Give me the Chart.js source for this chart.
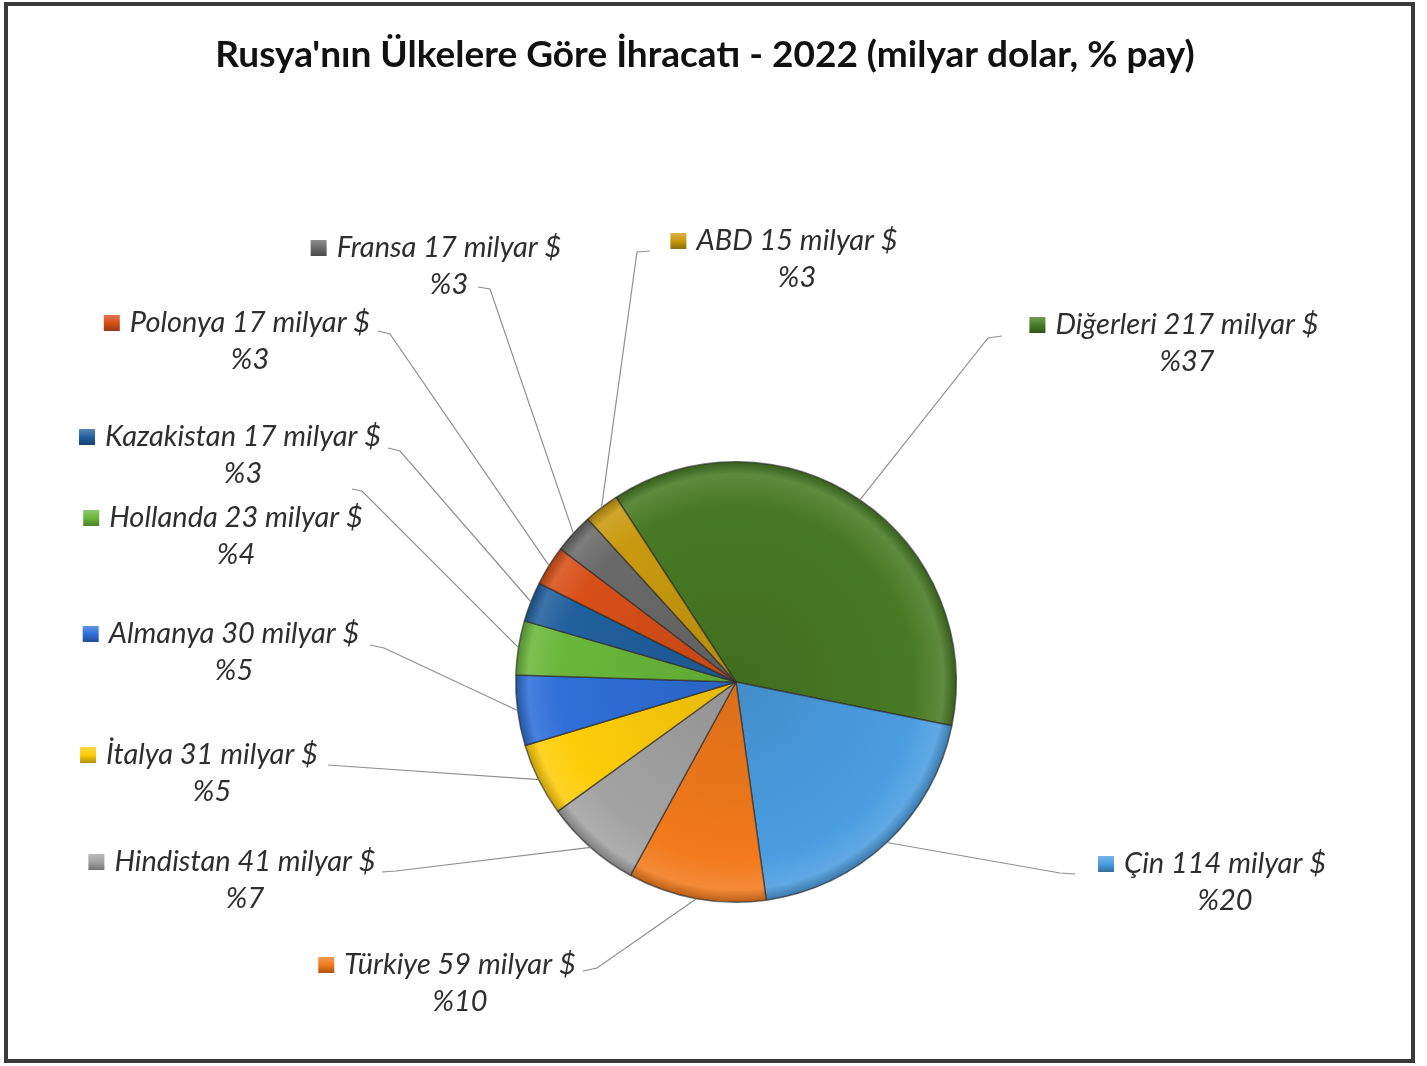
<!DOCTYPE html>
<html><head><meta charset="utf-8">
<script src="https://cdn.jsdelivr.net/npm/chart.js@4"></script>
<style>html,body{margin:0;padding:0;background:#fff}canvas{display:block}</style>
</head><body>
<canvas id="c" width="1427" height="1066"></canvas>
<script>
// ---- data ----
const categories = ['Diğerleri','Çin','Türkiye','Hindistan','İtalya','Almanya','Hollanda','Kazakistan','Polonya','Fransa','ABD'];
const values = [217,114,59,41,31,30,23,17,17,17,15];
const shares = [37,20,10,7,5,5,4,3,3,3,3];
const unitLabel = 'milyar $';
const titleText = "Rusya'nın Ülkelere Göre İhracatı - 2022 (milyar dolar, % pay)";

// ---- styles ----
const colors = ['#477a23','#4a9de0','#f27a1c','#a3a3a3','#fecd0a','#2f6fd8','#69b83a','#215f9e','#d84f17','#6a6a6a','#c99a0e'];
// label placement: [textCenterX, line1Y, tailX, tailY, elbowX, elbowY]
const labelLayout = [
  [1187, 325, 1002, 336, 988, 338],
  [1225, 864, 1075, 874, 1060, 873],
  [460, 965, 583, 971, 597, 968],
  [245, 862, 382, 872, 396, 871],
  [212, 755, 328, 765, 342, 766],
  [234, 634, 370, 645, 384, 648],
  [236, 518, 352, 489, 362, 491],
  [243, 437, 388, 448, 400, 451],
  [250, 323, 378, 331, 390, 334],
  [449, 248, 478, 287, 490, 289],
  [797, 241, 650, 251, 637, 252]
];

function shade(hex, amt) {
  const n = parseInt(hex.slice(1), 16);
  let r = (n >> 16) & 255, g = (n >> 8) & 255, b = n & 255;
  const f = c => amt >= 0 ? Math.round(c + (255 - c) * amt) : Math.round(c * (1 + amt));
  return `rgb(${f(r)},${f(g)},${f(b)})`;
}

const decorPlugin = {
  id: 'decor',
  beforeDraw(chart) {
    const ctx = chart.ctx;
    ctx.save();
    ctx.fillStyle = '#fff';
    ctx.fillRect(0, 0, chart.width, chart.height);
    ctx.strokeStyle = '#3a3a3a';
    ctx.lineWidth = 4;
    ctx.strokeRect(6, 4, 1407, 1057);
    ctx.fillStyle = '#111';
    ctx.font = 'bold 37px Lato';
    ctx.textAlign = 'center';
    ctx.textBaseline = 'middle';
    ctx.fillText(titleText, 705, 55);
    ctx.restore();
  },
  afterDatasetsDraw(chart) {
    const ctx = chart.ctx;
    const meta = chart.getDatasetMeta(0);
    ctx.save();
    meta.data.forEach((arc, i) => {
      const L = labelLayout[i];
      const mid = (arc.startAngle + arc.endAngle) / 2;
      const px = arc.x + Math.cos(mid) * arc.outerRadius;
      const py = arc.y + Math.sin(mid) * arc.outerRadius;
      ctx.strokeStyle = '#8f8f8f';
      ctx.lineWidth = 1.2;
      ctx.beginPath();
      ctx.moveTo(px, py);
      ctx.lineTo(L[4], L[5]);
      ctx.lineTo(L[2], L[3]);
      ctx.stroke();

      ctx.font = 'italic 29px Lato';
      ctx.textAlign = 'center';
      ctx.textBaseline = 'middle';
      const t1 = `${categories[i]} ${values[i]} ${unitLabel}`;
      const w = ctx.measureText(t1).width;
      const left = L[0] - w / 2;
      // marker
      const mx = left - 26, my = L[1] - 8, ms = 16;
      const c = colors[i];
      const g = ctx.createLinearGradient(mx, my, mx, my + ms);
      g.addColorStop(0, shade(c, 0.25));
      g.addColorStop(0.5, c);
      g.addColorStop(1, shade(c, -0.3));
      ctx.fillStyle = g;
      ctx.fillRect(mx, my, ms, ms);
      ctx.fillStyle = '#2e2e2e';
      ctx.fillText(t1, L[0], L[1]);
      ctx.fillText('%' + shares[i], L[0], L[1] + 37);
    });
    ctx.restore();
  }
};

new Chart(document.getElementById('c'), {
  type: 'pie',
  data: {
    labels: categories,
    datasets: [{
      data: values,
      backgroundColor: (ctx) => {
        const base = colors[ctx.dataIndex];
        const a = ctx.chart.chartArea;
        if (!a) return base;
        const cx = (a.left + a.right) / 2, cy = (a.top + a.bottom) / 2;
        const r = Math.min(a.width, a.height) / 2;
        const g = ctx.chart.ctx.createRadialGradient(cx, cy, 0, cx, cy, r);
        g.addColorStop(0, shade(base, -0.1));
        g.addColorStop(0.8, base);
        g.addColorStop(0.94, shade(base, 0.12));
        g.addColorStop(1, shade(base, -0.25));
        return g;
      },
      borderColor: 'rgba(45,45,45,0.65)',
      borderWidth: 1.5
    }]
  },
  options: {
    responsive: false,
    animation: false,
    rotation: -33,
    layout: { padding: { left: 515, right: 470, top: 461, bottom: 163 } },
    plugins: { legend: { display: false }, tooltip: { enabled: false }, title: { display: false } }
  },
  plugins: [decorPlugin]
});
</script>
</body></html>
